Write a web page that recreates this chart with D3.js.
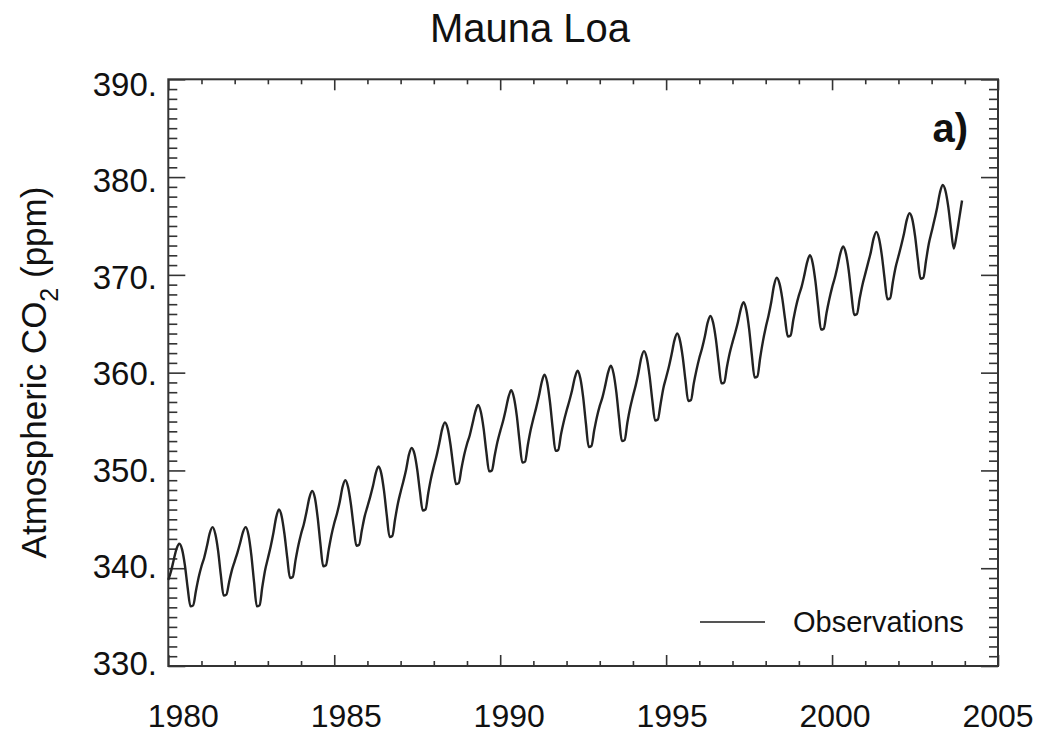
<!DOCTYPE html>
<html>
<head>
<meta charset="utf-8">
<script src="https://cdn.jsdelivr.net/npm/d3@7"></script>
<style>
  body { margin: 0; background: #fff; }
  svg { display: block; }
  text { font-family: "Liberation Sans", Arial, Helvetica, sans-serif; fill: #111; }
</style>
</head>
<body>
<svg id="chart" width="1042" height="734"></svg>
<script>
// Monthly atmospheric CO2 at Mauna Loa (ppm), Jan 1980 - Dec 2003, one row per year
const startYear = 1980;
const co2Monthly = [
  338.8, 339.7, 340.9, 342.0, 342.5, 341.9, 340.3, 338.0, 336.1, 336.2, 337.7, 339.1, // 1980
  340.2, 341.1, 342.3, 343.6, 344.2, 343.5, 341.8, 339.3, 337.2, 337.3, 338.6, 339.8, // 1981
  340.7, 341.6, 342.6, 343.7, 344.2, 343.4, 341.4, 338.6, 336.1, 336.2, 338.1, 339.8, // 1982
  341.0, 342.2, 343.6, 345.2, 346.0, 345.3, 343.5, 341.1, 339.0, 339.1, 340.8, 342.3, // 1983
  343.5, 344.5, 345.8, 347.2, 347.9, 347.2, 345.2, 342.5, 340.2, 340.3, 341.9, 343.4, // 1984
  344.6, 345.6, 346.8, 348.3, 349.0, 348.3, 346.6, 344.3, 342.3, 342.4, 343.9, 345.3, // 1985
  346.3, 347.3, 348.4, 349.7, 350.4, 349.7, 347.9, 345.4, 343.2, 343.3, 345.0, 346.6, // 1986
  347.8, 348.9, 350.1, 351.6, 352.3, 351.7, 350.1, 347.8, 345.9, 346.0, 347.7, 349.2, // 1987
  350.4, 351.5, 352.8, 354.2, 354.9, 354.3, 352.7, 350.5, 348.6, 348.7, 350.2, 351.6, // 1988
  352.7, 353.6, 354.8, 356.0, 356.7, 356.0, 354.3, 351.9, 349.9, 350.0, 351.5, 352.9, // 1989
  354.0, 355.0, 356.2, 357.5, 358.2, 357.4, 355.6, 353.0, 350.8, 350.9, 352.6, 354.1, // 1990
  355.3, 356.4, 357.6, 359.0, 359.8, 359.0, 357.0, 354.3, 352.0, 352.1, 353.7, 355.0, // 1991
  356.1, 357.1, 358.2, 359.5, 360.2, 359.4, 357.5, 354.8, 352.4, 352.5, 354.1, 355.5, // 1992
  356.6, 357.5, 358.7, 360.0, 360.7, 359.9, 358.0, 355.3, 353.0, 353.1, 354.9, 356.4, // 1993
  357.6, 358.7, 360.0, 361.5, 362.2, 361.5, 359.7, 357.2, 355.1, 355.2, 356.8, 358.4, // 1994
  359.5, 360.6, 361.9, 363.3, 364.0, 363.3, 361.6, 359.2, 357.1, 357.2, 358.9, 360.3, // 1995
  361.5, 362.5, 363.7, 365.1, 365.8, 365.1, 363.4, 361.0, 358.9, 359.0, 360.6, 362.0, // 1996
  363.1, 364.1, 365.2, 366.5, 367.2, 366.4, 364.5, 361.8, 359.5, 359.6, 361.5, 363.2, // 1997
  364.6, 365.8, 367.2, 368.9, 369.7, 369.1, 367.6, 365.5, 363.7, 363.8, 365.4, 366.8, // 1998
  367.9, 368.8, 370.0, 371.3, 372.0, 371.2, 369.3, 366.7, 364.4, 364.5, 366.1, 367.5, // 1999
  368.7, 369.7, 370.9, 372.2, 372.9, 372.2, 370.5, 368.0, 365.9, 366.0, 367.6, 369.0, // 2000
  370.1, 371.2, 372.3, 373.7, 374.4, 373.7, 372.0, 369.6, 367.5, 367.6, 369.3, 370.8, // 2001
  371.9, 373.0, 374.2, 375.6, 376.3, 375.7, 374.0, 371.6, 369.6, 369.7, 371.5, 373.2, // 2002
  374.4, 375.6, 376.9, 378.4, 379.2, 378.6, 377.0, 374.7, 372.7, 374.0, 375.8, 377.6  // 2003
];

// Axis ranges and tick labels
const xDomain = [1980, 2005];
const yDomain = [330, 390];
const xMajorTicks = [1980, 1985, 1990, 1995, 2000, 2005];
const xTickLabels = ["1980", "1985", "1990", "1995", "2000", "2005"];
const yMajorTicks = [330, 340, 350, 360, 370, 380, 390];
const yTickLabels = ["330.", "340.", "350.", "360.", "370.", "380.", "390."];

const titleText = "Mauna Loa";
const panelTag = "a)";
const yTitleParts = ["Atmospheric CO", "2", " (ppm)"];
const legendText = "Observations";

// Layout
const plot = { left: 168.3, right: 998, top: 79.3, bottom: 666 };
const svg = d3.select("#chart");

const x = d3.scaleLinear().domain(xDomain).range([plot.left, plot.right]);
const y = d3.scaleLinear().domain(yDomain).range([plot.bottom, plot.top]);
// tick numbers sit on a slightly narrower band than the ticks themselves
const xLabelPos = d3.scaleLinear().domain(xDomain).range([183.3, 998]);
const yLabelPos = d3.scaleLinear().domain(yDomain).range([662.5, 84]);

const axisColor = "#333";

const xMinor = d3.range(xDomain[0], xDomain[1] + 1).filter(v => !xMajorTicks.includes(v));
const yMinor = d3.range(yDomain[0], yDomain[1] + 1).filter(v => !yMajorTicks.includes(v));

function drawAxis(axisFn, scale, values, size, transform) {
  const g = svg.append("g")
    .attr("transform", transform)
    .call(axisFn(scale).tickValues(values).tickSizeInner(-size).tickSizeOuter(0).tickFormat(""));
  g.select(".domain").remove();
  g.selectAll(".tick line").attr("stroke", axisColor).attr("stroke-width", 1.6);
}

// inward ticks on all four sides
drawAxis(d3.axisBottom, x, xMinor, 5, `translate(0,${plot.bottom})`);
drawAxis(d3.axisBottom, x, xMajorTicks, 11, `translate(0,${plot.bottom})`);
drawAxis(d3.axisTop, x, xMinor, 5, `translate(0,${plot.top})`);
drawAxis(d3.axisTop, x, xMajorTicks, 11, `translate(0,${plot.top})`);
drawAxis(d3.axisLeft, y, yMinor, 9, `translate(${plot.left},0)`);
drawAxis(d3.axisLeft, y, yMajorTicks, 17, `translate(${plot.left},0)`);
drawAxis(d3.axisRight, y, yMinor, 9, `translate(${plot.right},0)`);
drawAxis(d3.axisRight, y, yMajorTicks, 17, `translate(${plot.right},0)`);

// frame
svg.append("rect")
  .attr("x", plot.left).attr("y", plot.top)
  .attr("width", plot.right - plot.left).attr("height", plot.bottom - plot.top)
  .attr("fill", "none").attr("stroke", axisColor).attr("stroke-width", 2);

// tick numbers
svg.append("g").selectAll("text").data(xMajorTicks).join("text")
  .attr("x", d => xLabelPos(d)).attr("y", 727)
  .attr("text-anchor", "middle").attr("font-size", 32)
  .text((d, i) => xTickLabels[i]);

svg.append("g").selectAll("text").data(yMajorTicks).join("text")
  .attr("x", 157).attr("y", d => yLabelPos(d) + 12)
  .attr("text-anchor", "end").attr("font-size", 33)
  .text((d, i) => yTickLabels[i]);

// CO2 curve
const line = d3.line()
  .x((d, i) => x(startYear + i / 12))
  .y(d => y(d))
  .curve(d3.curveMonotoneX);

svg.append("path")
  .datum(co2Monthly)
  .attr("d", line)
  .attr("fill", "none")
  .attr("stroke", "#222")
  .attr("stroke-width", 2.4)
  .attr("stroke-linejoin", "round");

// titles
svg.append("text")
  .attr("x", 530).attr("y", 42)
  .attr("text-anchor", "middle").attr("font-size", 40)
  .text(titleText);

svg.append("text")
  .attr("x", 968).attr("y", 142)
  .attr("text-anchor", "end").attr("font-size", 40).attr("font-weight", "bold")
  .text(panelTag);

const yTitle = svg.append("text")
  .attr("transform", "translate(46,372.5) rotate(-90)")
  .attr("text-anchor", "middle").attr("font-size", 35);
yTitle.append("tspan").text(yTitleParts[0]);
yTitle.append("tspan").attr("font-size", 25).attr("dy", 12).text(yTitleParts[1]);
yTitle.append("tspan").attr("dy", -12).text(yTitleParts[2]);

// legend
svg.append("line")
  .attr("x1", 700).attr("x2", 765).attr("y1", 622).attr("y2", 622)
  .attr("stroke", "#555").attr("stroke-width", 2);
svg.append("text")
  .attr("x", 793).attr("y", 632)
  .attr("font-size", 29)
  .text(legendText);
</script>
</body>
</html>
